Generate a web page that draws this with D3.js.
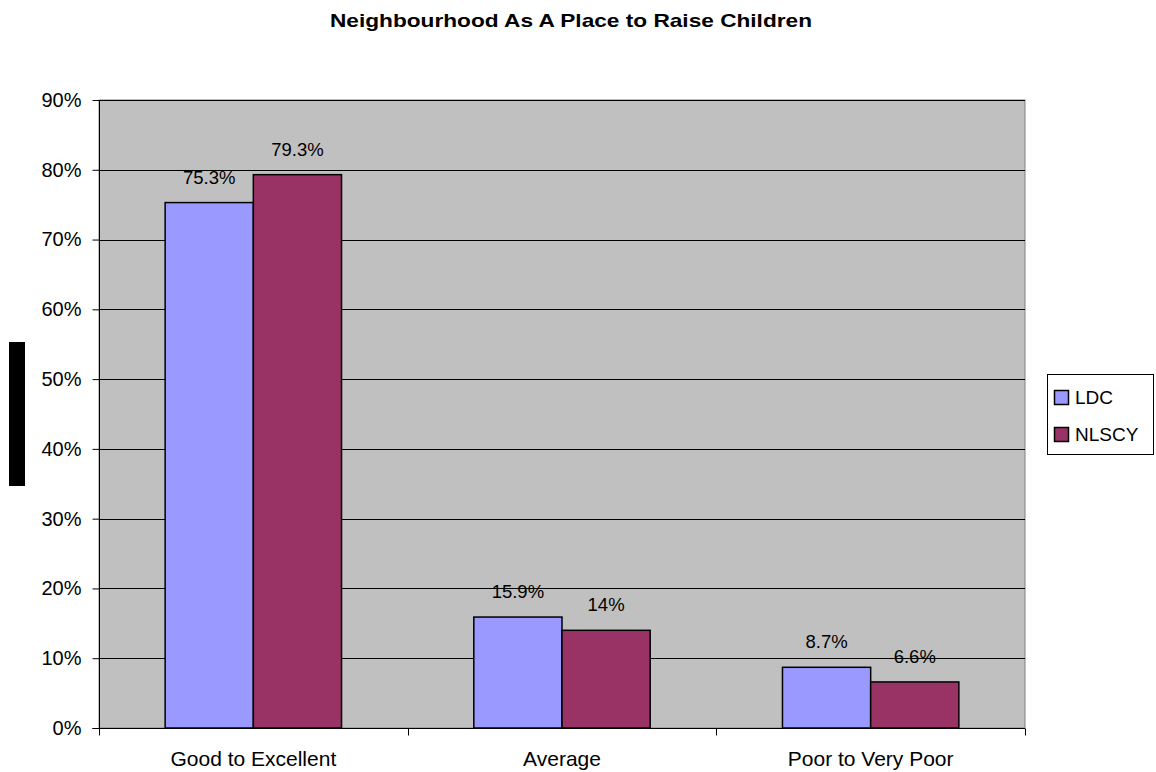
<!DOCTYPE html>
<html><head><meta charset="utf-8">
<script src="https://cdn.jsdelivr.net/npm/d3@7"></script>
<style>body{margin:0;background:#fff;} text{font-family:"Liberation Sans",Arial,sans-serif;}</style>
</head><body>
<svg id="c" width="1156" height="772"></svg>
<script>
const categories = ["Good to Excellent", "Average", "Poor to Very Poor"];
const seriesNames = ["LDC", "NLSCY"];
const ldcValues = [75.3, 15.9, 8.7];
const nlscyValues = [79.3, 14, 6.6];
const valueLabels = [["75.3%", "15.9%", "8.7%"], ["79.3%", "14%", "6.6%"]];
const yTicks = [0, 10, 20, 30, 40, 50, 60, 70, 80, 90];
const colors = ["#9999FF", "#993366"];
const title = "Neighbourhood As A Place to Raise Children";

const svg = d3.select("#c");
const L = 99, R = 1025, T = 100, B = 728;
const x = d3.scaleBand().domain(categories).range([L, R]);
const y = d3.scaleLinear().domain([0, 90]).range([B, T]);
const series = [ldcValues, nlscyValues];
const FF = "Liberation Sans, Arial, sans-serif";

svg.append("rect").attr("x", L).attr("y", T).attr("width", R - L).attr("height", B - T)
  .attr("fill", "#C0C0C0").attr("stroke", "#808080").attr("stroke-width", 1);

// gridlines
svg.append("g").selectAll("line").data(yTicks.filter(d => d > 0)).join("line")
  .attr("x1", L).attr("x2", R).attr("y1", d => Math.round(y(d)) + 0.5).attr("y2", d => Math.round(y(d)) + 0.5)
  .attr("stroke", "#000").attr("stroke-width", 1);

// bars
const bw = x.bandwidth() / 3.5;
series.forEach((vals, si) => {
  svg.append("g").selectAll("rect").data(vals).join("rect")
    .attr("x", (d, i) => x(categories[i]) + x.bandwidth() / 2 - bw + si * bw)
    .attr("y", d => y(d))
    .attr("width", bw).attr("height", d => B - y(d))
    .attr("fill", colors[si]).attr("stroke", "#000").attr("stroke-width", 1.5);
  svg.append("g").selectAll("text").data(vals).join("text")
    .attr("x", (d, i) => x(categories[i]) + x.bandwidth() / 2 - bw + si * bw + bw / 2)
    .attr("y", d => y(d) - 19)
    .attr("text-anchor", "middle").attr("font-size", 18.5).attr("fill", "#000")
    .text((d, i) => valueLabels[si][i]);
});

// y axis
const yAxis = d3.axisLeft(y).tickValues(yTicks).tickFormat(d => d + "%").tickSize(7).tickPadding(11);
const gy = svg.append("g").attr("transform", `translate(${L + 0.5},0)`).call(yAxis);
gy.selectAll("text").attr("font-size", 20).attr("fill", "#000").style("font-family", FF);
gy.selectAll("line").attr("stroke", "#000");
gy.select(".domain").attr("stroke", "#000").attr("d", `M-7,${B + 0.5}H0V${T}`);

// x axis
const xAxis = d3.axisBottom(x).tickSize(0).tickPadding(23);
const gx = svg.append("g").attr("transform", `translate(0,${B + 0.5})`).call(xAxis);
gx.selectAll("text").attr("font-size", 21).attr("fill", "#000").style("font-family", FF);
gx.select(".domain").attr("stroke", "#000").attr("d", `M${L},0H${R}`);
gx.append("g").selectAll("line").data(d3.range(categories.length + 1)).join("line")
  .attr("x1", i => Math.round(L + i * x.step()) + 0.5).attr("x2", i => Math.round(L + i * x.step()) + 0.5)
  .attr("y1", 0).attr("y2", 7).attr("stroke", "#000");

// title
svg.append("text").attr("x", 330).attr("y", 27)
  .attr("font-size", 18.5).attr("font-weight", "bold").attr("fill", "#000")
  .attr("textLength", 482).attr("lengthAdjust", "spacingAndGlyphs").text(title);

// black y-axis title block
svg.append("rect").attr("x", 9).attr("y", 342).attr("width", 16).attr("height", 144).attr("fill", "#000");

// legend
const lg = svg.append("g");
lg.append("rect").attr("x", 1047.5).attr("y", 374.5).attr("width", 106).attr("height", 80)
  .attr("fill", "#fff").attr("stroke", "#000").attr("stroke-width", 1);
seriesNames.forEach((n, i) => {
  const yy = 390 + i * 37;
  lg.append("rect").attr("x", 1054.5).attr("y", yy + 0.5).attr("width", 14).attr("height", 14)
    .attr("fill", colors[i]).attr("stroke", "#000").attr("stroke-width", 1.5);
  lg.append("text").attr("x", 1075).attr("y", yy + 14).attr("font-size", 19).attr("fill", "#000").text(n);
});
</script>
</body></html>
